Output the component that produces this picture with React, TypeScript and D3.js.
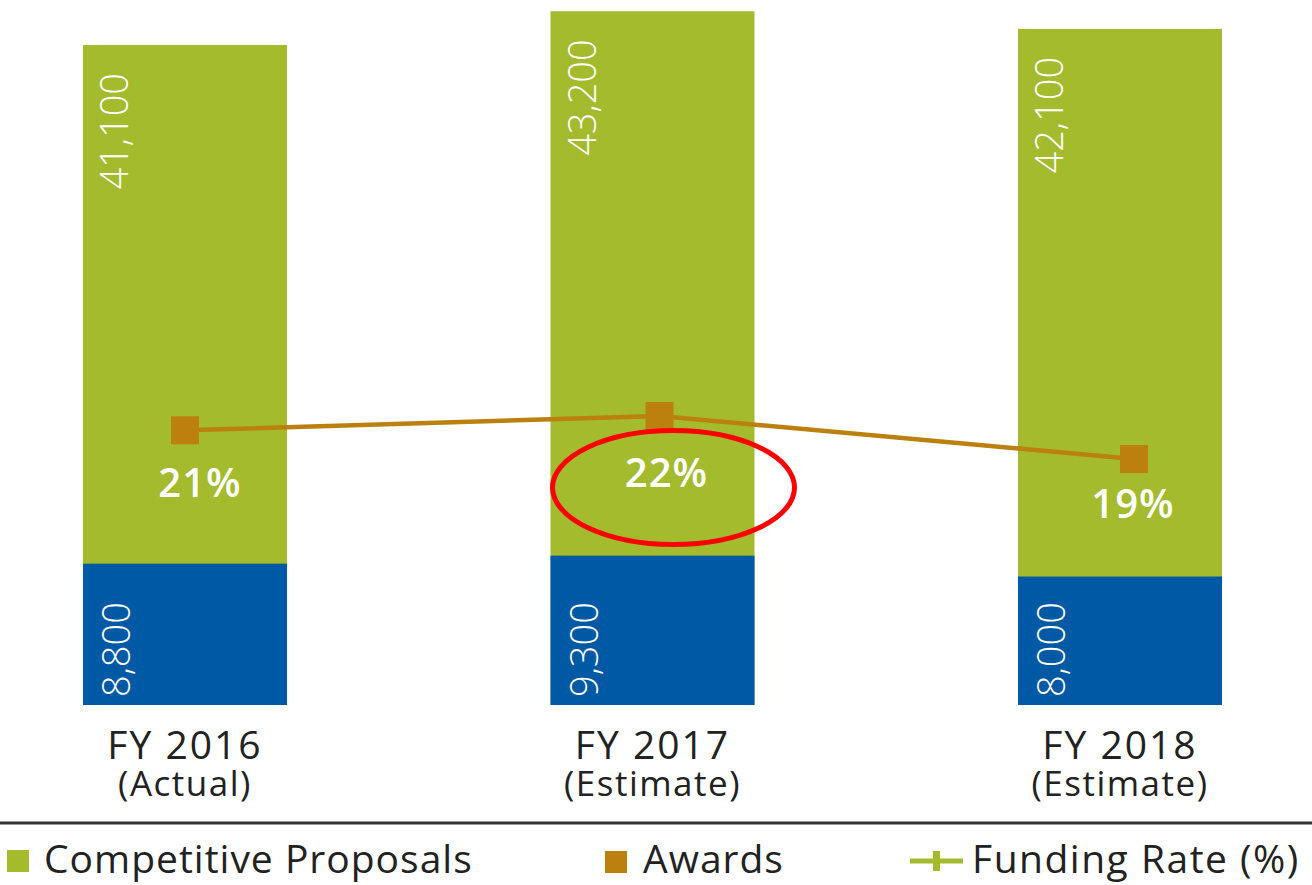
import React from "react";
import * as d3 from "d3";

const categories = ["FY 2016", "FY 2017", "FY 2018"];
const subLabels = ["(Actual)", "(Estimate)", "(Estimate)"];
const proposals = [41100, 43200, 42100];
const awards = [8800, 9300, 8000];
const fundingRate = [21, 22, 19];
const legendItems = ["Competitive Proposals", "Awards", "Funding Rate (%)"];

const W = 1312;
const H = 885;
const GREEN = "#a3bb2d";
const BLUE = "#0059a5";
const BROWN = "#bb800d";
const TEXT = "#222";
const FONT = "'Open Sans', 'Noto Sans', sans-serif";

export default function App() {
  const x = d3.scalePoint<string>().domain(categories).range([185, 1120]);
  const barW = 204;
  const y = d3.scaleLinear().domain([0, 43900]).range([705, 0]);
  const xLine = d3.scalePoint<string>().domain(categories).range([185, 1134]);
  const xPct = d3.scalePoint<string>().domain(categories).range([200, 1133]);
  const yRate = d3.scaleLinear().domain([19, 22]).range([459, 416]);
  const yPct = d3.scaleLinear().domain([19, 22]).range([518, 487]);
  const fmt = d3.format(",");

  const linePts: [number, number][] = categories.map((c, i) => [xLine(c)!, yRate(fundingRate[i])]);
  const line = d3.line()(linePts) || "";
  const mk = 28;

  return (
    <svg
      width={W}
      height={H}
      style={{ position: "absolute", left: 0, top: 0, background: "#fff" }}
      fontFamily={FONT}
    >
      {categories.map((c, i) => {
        const cx = x(c)!;
        const x0 = cx - barW / 2;
        return (
          <g key={c}>
            <rect x={x0} y={y(proposals[i])} width={barW} height={y(0) - y(proposals[i])} fill={GREEN} />
            <rect x={x0} y={y(awards[i])} width={barW} height={y(0) - y(awards[i])} fill={BLUE} />
            <text
              transform={`translate(${x0 + 45},${y(proposals[i]) + 28}) rotate(-90)`}
              textAnchor="end"
              fill="#fff"
              fontSize={38}
              fontWeight={300}
            >
              {fmt(proposals[i])}
            </text>
            <text
              transform={`translate(${x0 + 47},${y(0) - 8}) rotate(-90)`}
              textAnchor="start"
              fill="#fff"
              fontSize={38}
              fontWeight={300}
            >
              {fmt(awards[i])}
            </text>
            <text x={cx} y={759} textAnchor="middle" fill={TEXT} fontSize={39} letterSpacing={2}>
              {c}
            </text>
            <text x={cx} y={796} textAnchor="middle" fill={TEXT} fontSize={35} letterSpacing={1.5}>
              {subLabels[i]}
            </text>
          </g>
        );
      })}

      <path d={line} fill="none" stroke={BROWN} strokeWidth={4.5} />
      {linePts.map(([px, py], i) => (
        <rect key={i} x={px - mk / 2} y={py - mk / 2} width={mk} height={mk} fill={BROWN} />
      ))}
      {categories.map((c, i) => (
        <text
          key={c}
          x={xPct(c)!}
          y={yPct(fundingRate[i])}
          textAnchor="middle"
          fill="#fff"
          fontSize={40}
          fontWeight={600}
          letterSpacing={1}
        >
          {fundingRate[i]}%
        </text>
      ))}

      <ellipse cx={673.5} cy={487.5} rx={121} ry={57} fill="none" stroke="#ff0000" strokeWidth={5} />

      <line x1={0} x2={W} y1={823} y2={823} stroke="#333" strokeWidth={3} />

      <g>
        <rect x={7} y={850} width={22} height={22} fill={GREEN} />
        <text x={44} y={873} fill={TEXT} fontSize={39} letterSpacing={1}>{legendItems[0]}</text>
        <rect x={605} y={851} width={22} height={22} fill={BROWN} />
        <text x={643} y={873} fill={TEXT} fontSize={39} letterSpacing={1}>{legendItems[1]}</text>
        <line x1={910} x2={963} y1={861} y2={861} stroke={GREEN} strokeWidth={5} />
        <rect x={933} y={851} width={7} height={20} fill={GREEN} />
        <text x={972} y={873} fill={TEXT} fontSize={39} letterSpacing={1.5}>{legendItems[2]}</text>
      </g>
    </svg>
  );
}
